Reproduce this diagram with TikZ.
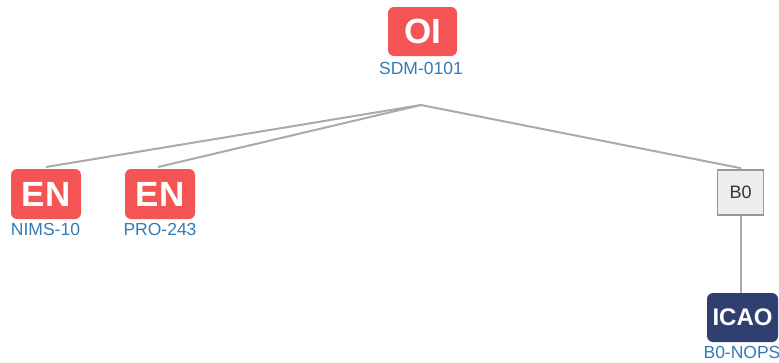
\documentclass[tikz,border=0pt]{standalone}
\usepackage{fontspec}
\setmainfont{Liberation Sans}
\definecolor{enred}{HTML}{F55454}
\definecolor{navy}{HTML}{2E3F70}
\definecolor{lblue}{HTML}{337AB7}
\definecolor{lgray}{HTML}{AAAAAA}
\definecolor{bgray}{HTML}{EEEEEE}
\definecolor{bborder}{HTML}{999999}
\begin{document}
\begin{tikzpicture}[x=1pt,y=-1pt,
  badge/.style={rounded corners=6pt,inner sep=0pt,text=white,font=\bfseries},
  redbadge/.style={badge,fill=enred,minimum width=70pt,minimum height=50pt,font=\fontsize{35}{35}\selectfont\bfseries},
  navybadge/.style={badge,fill=navy,minimum width=71pt,minimum height=49pt,font=\fontsize{24}{24}\selectfont\bfseries},
  lbl/.style={text=lblue,inner sep=0pt,font=\fontsize{17.5}{17.5}\selectfont},
  conn/.style={draw=lgray,line width=2pt},
  grpbox/.style={draw=bborder,fill=bgray,line width=1.5pt,minimum width=46pt,minimum height=45pt,inner sep=0pt,text=black!80,font=\fontsize{18}{18}\selectfont}]
\useasboundingbox (0,0) rectangle (779,362);
\node[redbadge,minimum width=69pt,minimum height=49pt] (oi) at (422.5,31.5) {OI};
\node[lbl] (sdm) at (421,68) {SDM-0101};
\coordinate (j) at (421,105);
\node[redbadge] (en1) at (46,194) {EN};
\node[lbl] (nims) at (45.5,229) {NIMS-10};
\node[redbadge] (en2) at (160,194) {EN};
\node[lbl] (pro) at (160,229) {PRO-243};
\node[grpbox] (b0) at (740.5,192.5) {B0};
\node[navybadge] (icao) at (742.5,317.5) {ICAO};
\node[lbl] (nops) at (742,352) {B0-NOPS};
\coordinate (t1) at (46,167);
\coordinate (t2) at (158,167);
\coordinate (t3) at (740,168);
\draw[conn] (j) -- (t1);
\draw[conn] (j) -- (t2);
\draw[conn] (j) -- (t3) -- (b0.north);
\draw[conn] (b0.south) -- (icao.north -| b0.south);
\end{tikzpicture}
\end{document}
